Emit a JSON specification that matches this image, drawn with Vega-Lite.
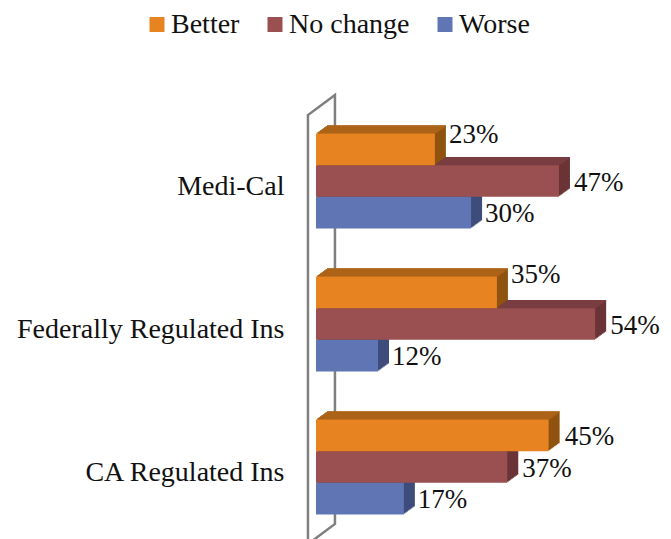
{"$schema":"https://vega.github.io/schema/vega-lite/v6.json","width":371,"height":429,"autosize":{"type":"none"},"padding":{"left":300,"top":109.5,"right":0,"bottom":0},"background":"white","config":{"view":{"stroke":null},"font":"Liberation Serif"},
"datasets":{"bars":[{"group":"Medi-Cal","series":"Better","value":23,"label":"23%"},{"group":"Medi-Cal","series":"No change","value":47,"label":"47%"},{"group":"Medi-Cal","series":"Worse","value":30,"label":"30%"},{"group":"Federally Regulated Ins","series":"Better","value":35,"label":"35%"},{"group":"Federally Regulated Ins","series":"No change","value":54,"label":"54%"},{"group":"Federally Regulated Ins","series":"Worse","value":12,"label":"12%"},{"group":"CA Regulated Ins","series":"Better","value":45,"label":"45%"},{"group":"CA Regulated Ins","series":"No change","value":37,"label":"37%"},{"group":"CA Regulated Ins","series":"Worse","value":17,"label":"17%"}],"wall":[{"o":1,"x":-1.55,"h":-0.02},{"o":2,"x":-1.55,"h":0.987},{"o":3,"x":3.67,"h":1.034},{"o":4,"x":3.67,"h":0.034},{"o":5,"x":-1.55,"h":-0.013}]},
"resolve":{"scale":{"y":"independent"}},
"layer":[
{"data":{"name":"wall"},"mark":{"type":"line","stroke":"#7f7f7f","strokeWidth":2.5,"clip":false},"encoding":{"x":{"field":"x","type":"quantitative","axis":null,"scale":{"domain":[-3.09,68.67],"nice":false,"zero":false}},"y":{"field":"h","type":"quantitative","axis":null,"scale":{"domain":[0,1],"nice":false,"zero":false}},"order":{"field":"o"}}},
{"data":{"name":"bars"},
"encoding":{"x":{"field":"value","type":"quantitative","axis":null,"scale":{"domain":[-3.09,68.67],"nice":false,"zero":false}},"y":{"field":"group","type":"nominal","title":null,"scale":{"domain":["Medi-Cal","Federally Regulated Ins","CA Regulated Ins"],"paddingInner":0.336,"paddingOuter":0.168},"axis":{"domain":false,"ticks":false,"labelFontSize":28,"labelFont":"Liberation Serif","labelColor":"#111111","labelPadding":16,"labelOffset":6,"labelLimit":400}}},
"layer":[
{"transform":[{"filter":"datum.series==='Worse'"}],"layer":[
{"mark":{"type":"bar","height":31.7,"color":"#3e4c7c","xOffset":1.4,"x2Offset":1.4,"yOffset":30.7}},{"mark":{"type":"bar","height":31.7,"color":"#3e4c7c","xOffset":2.8,"x2Offset":2.8,"yOffset":29.7}},{"mark":{"type":"bar","height":31.7,"color":"#3e4c7c","xOffset":4.1,"x2Offset":4.1,"yOffset":28.7}},{"mark":{"type":"bar","height":31.7,"color":"#3e4c7c","xOffset":5.5,"x2Offset":5.5,"yOffset":27.7}},{"mark":{"type":"bar","height":31.7,"color":"#3e4c7c","xOffset":6.9,"x2Offset":6.9,"yOffset":26.7}},{"mark":{"type":"bar","height":31.7,"color":"#3e4c7c","xOffset":8.3,"x2Offset":8.3,"yOffset":25.7}},{"mark":{"type":"bar","height":31.7,"color":"#3e4c7c","xOffset":9.6,"x2Offset":9.6,"yOffset":24.7}},{"mark":{"type":"bar","height":31.7,"color":"#3e4c7c","xOffset":11,"x2Offset":11,"yOffset":23.7}},
{"mark":{"type":"bar","height":31.7,"yOffset":31.7},"encoding":{"color":{"field":"series","type":"nominal","scale":{"domain":["Better","No change","Worse"],"range":["#e88322","#9a5050","#6076b4"]},"legend":{"orient":"none","legendX":-157,"legendY":-99,"direction":"horizontal","title":null,"symbolType":"square","symbolSize":225,"symbolStrokeWidth":0,"labelFontSize":28,"labelFont":"Liberation Serif","labelColor":"#111111","labelOffset":0,"columnPadding":21,"padding":0}}}}
]},
{"transform":[{"filter":"datum.series==='No change'"}],"layer":[
{"mark":{"type":"bar","height":31.7,"color":"#6a3436","xOffset":1.4,"x2Offset":1.4,"yOffset":-1}},{"mark":{"type":"bar","height":31.7,"color":"#6a3436","xOffset":2.8,"x2Offset":2.8,"yOffset":-2}},{"mark":{"type":"bar","height":31.7,"color":"#6a3436","xOffset":4.1,"x2Offset":4.1,"yOffset":-3}},{"mark":{"type":"bar","height":31.7,"color":"#6a3436","xOffset":5.5,"x2Offset":5.5,"yOffset":-4}},{"mark":{"type":"bar","height":31.7,"color":"#6a3436","xOffset":6.9,"x2Offset":6.9,"yOffset":-5}},{"mark":{"type":"bar","height":31.7,"color":"#6a3436","xOffset":8.3,"x2Offset":8.3,"yOffset":-6}},{"mark":{"type":"bar","height":31.7,"color":"#6a3436","xOffset":9.6,"x2Offset":9.6,"yOffset":-7}},{"mark":{"type":"bar","height":31.7,"color":"#6a3436","xOffset":11,"x2Offset":11,"yOffset":-8}},
{"mark":{"type":"bar","color":"#7a3d40","height":1.3,"xOffset":1.4,"x2Offset":1.4,"yOffset":-16.4}},{"mark":{"type":"bar","color":"#7a3d40","height":1.3,"xOffset":2.8,"x2Offset":2.8,"yOffset":-17.4}},{"mark":{"type":"bar","color":"#7a3d40","height":1.3,"xOffset":4.1,"x2Offset":4.1,"yOffset":-18.4}},{"mark":{"type":"bar","color":"#7a3d40","height":1.3,"xOffset":5.5,"x2Offset":5.5,"yOffset":-19.4}},{"mark":{"type":"bar","color":"#7a3d40","height":1.3,"xOffset":6.9,"x2Offset":6.9,"yOffset":-20.4}},{"mark":{"type":"bar","color":"#7a3d40","height":1.3,"xOffset":8.3,"x2Offset":8.3,"yOffset":-21.4}},{"mark":{"type":"bar","color":"#7a3d40","height":1.3,"xOffset":9.6,"x2Offset":9.6,"yOffset":-22.4}},{"mark":{"type":"bar","color":"#7a3d40","height":1.3,"xOffset":11,"x2Offset":11,"yOffset":-23.4}},
{"mark":{"type":"bar","height":31.7},"encoding":{"color":{"field":"series","type":"nominal"}}}
]},
{"transform":[{"filter":"datum.series==='Better'"}],"layer":[
{"mark":{"type":"bar","height":31.7,"color":"#90530f","xOffset":1.4,"x2Offset":1.4,"yOffset":-32.7}},{"mark":{"type":"bar","height":31.7,"color":"#90530f","xOffset":2.8,"x2Offset":2.8,"yOffset":-33.7}},{"mark":{"type":"bar","height":31.7,"color":"#90530f","xOffset":4.1,"x2Offset":4.1,"yOffset":-34.7}},{"mark":{"type":"bar","height":31.7,"color":"#90530f","xOffset":5.5,"x2Offset":5.5,"yOffset":-35.7}},{"mark":{"type":"bar","height":31.7,"color":"#90530f","xOffset":6.9,"x2Offset":6.9,"yOffset":-36.7}},{"mark":{"type":"bar","height":31.7,"color":"#90530f","xOffset":8.3,"x2Offset":8.3,"yOffset":-37.7}},{"mark":{"type":"bar","height":31.7,"color":"#90530f","xOffset":9.6,"x2Offset":9.6,"yOffset":-38.7}},{"mark":{"type":"bar","height":31.7,"color":"#90530f","xOffset":11,"x2Offset":11,"yOffset":-39.7}},
{"mark":{"type":"bar","color":"#b0661a","height":1.3,"xOffset":1.4,"x2Offset":1.4,"yOffset":-48.1}},{"mark":{"type":"bar","color":"#b0661a","height":1.3,"xOffset":2.8,"x2Offset":2.8,"yOffset":-49.1}},{"mark":{"type":"bar","color":"#b0661a","height":1.3,"xOffset":4.1,"x2Offset":4.1,"yOffset":-50.1}},{"mark":{"type":"bar","color":"#b0661a","height":1.3,"xOffset":5.5,"x2Offset":5.5,"yOffset":-51.1}},{"mark":{"type":"bar","color":"#b0661a","height":1.3,"xOffset":6.9,"x2Offset":6.9,"yOffset":-52.1}},{"mark":{"type":"bar","color":"#b0661a","height":1.3,"xOffset":8.3,"x2Offset":8.3,"yOffset":-53.1}},{"mark":{"type":"bar","color":"#b0661a","height":1.3,"xOffset":9.6,"x2Offset":9.6,"yOffset":-54.1}},{"mark":{"type":"bar","color":"#b0661a","height":1.3,"xOffset":11,"x2Offset":11,"yOffset":-55.1}},
{"mark":{"type":"bar","height":31.7,"yOffset":-31.7},"encoding":{"color":{"field":"series","type":"nominal"}}}
]},
{"transform":[{"filter":"datum.series==='Worse'"}],"mark":{"type":"text","align":"left","dx":14,"dy":33,"fontSize":27,"font":"Liberation Serif","color":"#111111"},"encoding":{"text":{"field":"label"}}},
{"transform":[{"filter":"datum.series==='No change'"}],"mark":{"type":"text","align":"left","dx":15,"dy":2,"fontSize":27,"font":"Liberation Serif","color":"#111111"},"encoding":{"text":{"field":"label"}}},
{"transform":[{"filter":"datum.series==='Better' && datum.value===45"}],"mark":{"type":"text","align":"left","dx":16,"dy":-30,"fontSize":27,"font":"Liberation Serif","color":"#111111"},"encoding":{"text":{"field":"label"}}},
{"transform":[{"filter":"datum.series==='Better' && datum.value===23"}],"mark":{"type":"text","align":"left","dx":14,"dy":-46,"fontSize":27,"font":"Liberation Serif","color":"#111111"},"encoding":{"text":{"field":"label"}}},
{"transform":[{"filter":"datum.series==='Better' && datum.value===35"}],"mark":{"type":"text","align":"left","dx":14,"dy":-49,"fontSize":27,"font":"Liberation Serif","color":"#111111"},"encoding":{"text":{"field":"label"}}}
]}
]}
